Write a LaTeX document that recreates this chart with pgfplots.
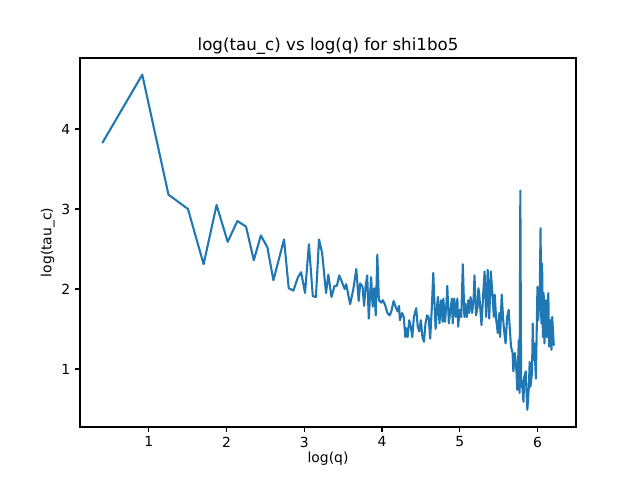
\documentclass[border=0pt]{standalone}
\usepackage{pgfplots}
\pgfplotsset{compat=1.18}
\usepackage{fontspec}
\setmainfont{DejaVu Sans}
\definecolor{mplblue}{HTML}{1F77B4}
\begin{document}
\begin{tikzpicture}
\begin{axis}[
  at={(0,0)}, anchor=south west,
  scale only axis,
  width=357.12pt, height=265.68pt,
  xmin=0.115, xmax=6.496,
  ymin=0.275, ymax=4.888,
  xtick={1,2,3,4,5,6},
  ytick={1,2,3,4},
  tick align=outside,
  major tick length=3.5pt,
  every tick/.style={black, line width=0.8pt},
  axis line style={line width=0.8pt},
  xtick pos=bottom, ytick pos=left,
  /pgf/number format/assume math mode=true,
  ticklabel style={font=\fontsize{10}{12}\selectfont},
  label style={font=\fontsize{10}{12}\selectfont},
  title style={font=\fontsize{12}{14}\selectfont, yshift=-7pt},
  title={log(tau\_c) vs log(q) for shi1bo5},
  xlabel={log(q)},
  ylabel={log(tau\_c)},
  xlabel style={yshift=3.5pt},
  ylabel style={yshift=-2pt},
]
\addplot[mplblue, line width=1.5pt, line join=round, line cap=round] coordinates {
(0.405,3.83)(0.916,4.68)(1.253,3.18)(1.504,3.00)(1.705,2.31)(1.872,3.05)
(2.015,2.59)(2.140,2.85)(2.251,2.78)(2.351,2.36)(2.442,2.67)(2.526,2.52)
(2.603,2.11)(2.74,2.62)(2.80,2.01)(2.86,1.98)(2.92,2.15)(2.96,2.21)
(3.01,1.95)(3.06,2.56)(3.11,1.91)(3.15,1.90)(3.19,2.62)(3.23,2.45)
(3.28,1.95)(3.31,2.18)(3.35,1.90)(3.39,2.04)(3.42,2.04)(3.45,2.17)
(3.48,2.10)(3.52,2.00)(3.54,2.06)(3.59,1.81)(3.63,1.99)(3.67,2.25)
(3.70,1.85)(3.72,2.07)(3.75,2.03)(3.77,1.79)(3.79,2.04)(3.81,2.17)
(3.83,1.63)(3.86,2.15)(3.88,1.78)(3.90,2.01)(3.92,1.67)(3.94,2.43)
(3.96,1.86)(3.99,1.83)(4.01,1.86)(4.04,1.80)(4.07,1.70)(4.10,1.67)
(4.12,1.72)(4.15,1.85)(4.17,1.79)(4.20,1.72)(4.22,1.79)(4.23,1.61)
(4.26,1.70)(4.28,1.65)(4.30,1.40)(4.31,1.51)(4.33,1.40)(4.35,1.61)
(4.37,1.53)(4.39,1.40)(4.41,1.65)(4.44,1.76)(4.46,1.53)(4.48,1.47)
(4.50,1.61)(4.52,1.40)(4.54,1.34)(4.56,1.57)(4.58,1.67)(4.60,1.65)
(4.62,1.38)(4.64,1.74)(4.66,2.20)(4.67,1.95)(4.69,1.50)(4.71,1.80)
(4.72,1.90)(4.74,1.57)(4.76,1.86)(4.78,1.59)(4.79,1.88)(4.81,1.59)
(4.83,1.82)(4.84,2.04)(4.86,1.57)(4.88,1.74)(4.90,1.88)(4.91,1.57)
(4.93,1.88)(4.95,1.65)(4.97,1.88)(4.98,1.53)(5.00,1.74)(5.02,1.65)
(5.04,2.31)(5.06,1.65)(5.07,1.82)(5.09,1.65)(5.11,1.86)(5.12,1.70)
(5.14,1.90)(5.16,1.70)(5.18,1.90)(5.19,2.17)(5.21,1.67)(5.23,1.78)
(5.24,2.01)(5.25,1.95)(5.28,1.55)(5.30,1.90)(5.32,2.22)(5.34,1.65)
(5.36,2.24)(5.38,1.63)(5.40,2.22)(5.42,1.95)(5.44,1.65)(5.45,1.93)
(5.47,1.61)(5.49,1.45)(5.51,1.70)(5.52,1.40)(5.54,1.93)(5.56,1.61)
(5.57,1.49)(5.59,1.32)(5.61,1.65)(5.63,1.74)(5.64,1.57)(5.66,1.28)
(5.68,1.20)(5.69,0.97)(5.71,1.20)(5.73,0.97)(5.74,0.74)(5.76,1.36)
(5.77,0.70)(5.78,3.23)(5.79,0.78)(5.80,0.86)(5.82,0.59)(5.83,0.90)
(5.85,0.97)(5.86,0.70)(5.87,0.49)(5.89,0.78)(5.90,1.09)(5.91,0.78)
(5.93,0.95)(5.94,1.57)(5.95,1.11)(5.96,1.32)(5.98,0.88)(5.99,1.45)
(6.00,2.03)(6.01,1.61)(6.03,1.99)(6.04,2.76)(6.05,1.57)(6.06,2.32)
(6.07,1.40)(6.08,1.95)(6.09,1.32)(6.11,1.86)(6.12,1.40)(6.14,1.95)
(6.15,1.28)(6.17,1.61)(6.18,1.24)(6.19,1.65)(6.21,1.30)
};
\end{axis}
\pgfresetboundingbox
\path[use as bounding box] (-57.6pt,-38.16pt) rectangle (403.2pt,307.44pt);
\end{tikzpicture}
\end{document}
